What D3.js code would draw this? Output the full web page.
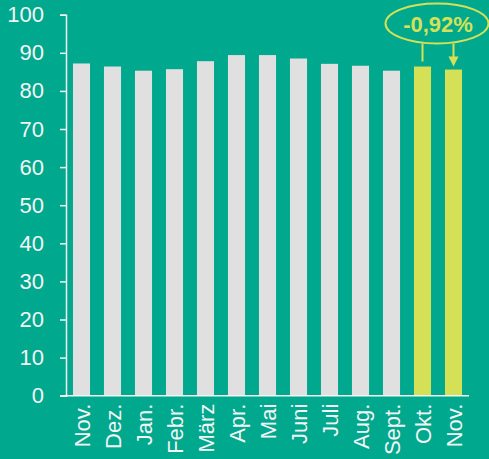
<html>
<head>
<meta charset="utf-8">
<script src="https://d3js.org/d3.v7.min.js"></script>
<style>
body { margin: 0; background: #00a88e; }
svg { display: block; font-family: "Liberation Sans", Arial, sans-serif; }
</style>
</head>
<body>
<svg id="chart" width="489" height="459"></svg>
<script>
// data
var months = ["Nov.", "Dez.", "Jan.", "Febr.", "März", "Apr.", "Mai", "Juni", "Juli", "Aug.", "Sept.", "Okt.", "Nov."];
var values = [87.2, 86.4, 85.3, 85.7, 87.8, 89.4, 89.4, 88.5, 87.1, 86.6, 85.3, 86.4, 85.6];
var highlight = [false, false, false, false, false, false, false, false, false, false, false, true, true];
var yTicks = [0, 10, 20, 30, 40, 50, 60, 70, 80, 90, 100];
var changeLabel = "-0,92%";

var bg = "#00a88e", grey = "#e0e0e0", lime = "#d4e157", white = "#f4f4f4";

var svg = d3.select("#chart");
svg.append("rect").attr("width", 489).attr("height", 459).attr("fill", bg);

var plotLeft = 66, plotRight = 469, plotTop = 14.7, plotBottom = 395.7;

var xScale = d3.scaleBand().domain(d3.range(months.length))
  .range([plotLeft, plotRight]).paddingInner(0.45).paddingOuter(0.225);
var yScale = d3.scaleLinear().domain([0, 100]).range([plotBottom, plotTop]);

// bars
svg.selectAll("rect.bar").data(values).enter().append("rect")
  .attr("class", "bar")
  .attr("x", function (d, i) { return xScale(i); })
  .attr("y", function (d) { return yScale(d); })
  .attr("width", xScale.bandwidth())
  .attr("height", function (d) { return plotBottom - yScale(d); })
  .attr("fill", function (d, i) { return highlight[i] ? lime : grey; });

// y axis
var yAxis = d3.axisLeft(yScale).tickValues(yTicks).tickSize(6).tickPadding(16);
var gy = svg.append("g").attr("transform", "translate(" + plotLeft + ",0)").call(yAxis);
gy.select(".domain").attr("stroke", white).attr("stroke-width", 1.5);
gy.selectAll(".tick line").attr("stroke", white).attr("stroke-width", 1.5);
gy.selectAll(".tick text").attr("fill", white).attr("font-size", 22)
  .attr("font-family", "Liberation Sans, Arial, sans-serif");

// x axis line
svg.append("line")
  .attr("x1", plotLeft - 6).attr("x2", plotRight)
  .attr("y1", plotBottom).attr("y2", plotBottom)
  .attr("stroke", white).attr("stroke-width", 1.5);

// x labels
svg.selectAll("text.xl").data(months).enter().append("text")
  .attr("class", "xl")
  .attr("transform", function (d, i) {
    return "translate(" + (xScale(i) + xScale.bandwidth() / 2 + 8) + "," + (plotBottom + 8) + ") rotate(-90)";
  })
  .attr("text-anchor", "end")
  .attr("font-size", 22)
  .attr("fill", white)
  .text(function (d) { return d; });

// annotation
var i1 = months.length - 2, i2 = months.length - 1;
var c1 = xScale(i1) + xScale.bandwidth() / 2, c2 = xScale(i2) + xScale.bandwidth() / 2;
var ex = (c1 + c2) / 2 - 1, ey = 23.5;
svg.append("ellipse")
  .attr("cx", ex).attr("cy", ey).attr("rx", 51.5).attr("ry", 20)
  .attr("fill", "none").attr("stroke", lime).attr("stroke-width", 2);
svg.append("text")
  .attr("x", ex + 1).attr("y", ey + 8)
  .attr("text-anchor", "middle")
  .attr("font-size", 22).attr("font-weight", "bold")
  .attr("fill", lime)
  .text(changeLabel);
svg.append("line")
  .attr("x1", c1).attr("x2", c1).attr("y1", ey + 20).attr("y2", yScale(values[i1]) - 5)
  .attr("stroke", lime).attr("stroke-width", 2);
svg.append("line")
  .attr("x1", c2).attr("x2", c2).attr("y1", ey + 20).attr("y2", yScale(values[i2]) - 12)
  .attr("stroke", lime).attr("stroke-width", 2);
var tip = yScale(values[i2]) - 3;
svg.append("path")
  .attr("d", "M" + (c2 - 5) + "," + (tip - 10) + "L" + (c2 + 5) + "," + (tip - 10) + "L" + c2 + "," + tip + "Z")
  .attr("fill", lime);
</script>
</body>
</html>
